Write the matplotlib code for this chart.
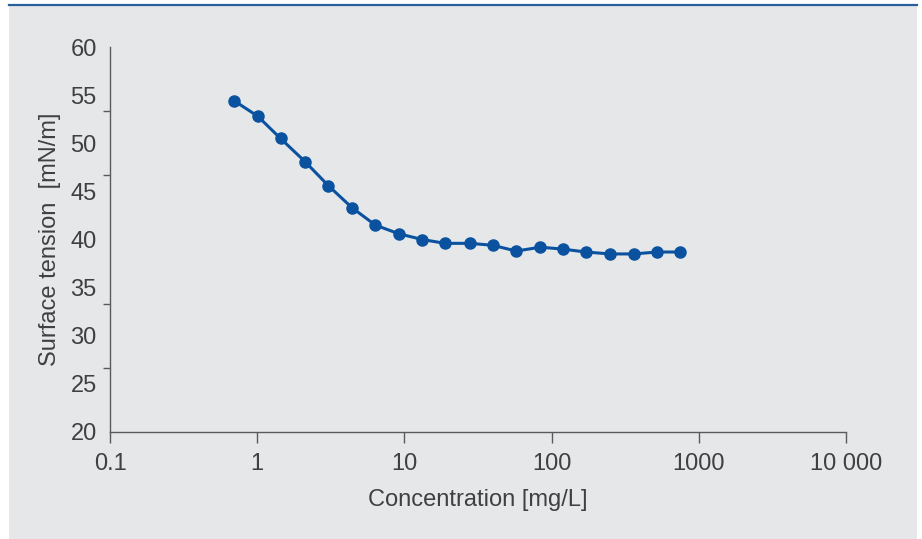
import matplotlib
matplotlib.use("Agg")
import matplotlib.pyplot as plt
from matplotlib.patches import Rectangle
from matplotlib.ticker import FixedLocator, NullFormatter

# Data
concentration = [0.70, 1.01, 1.44, 2.11, 3.04, 4.41, 6.34, 9.15, 13.2, 18.9,
                 27.9, 39.8, 57.5, 83.8, 119.5, 171, 249, 361, 520, 749]
surface_tension = [54.4, 52.8, 50.5, 48.1, 45.6, 43.3, 41.5, 40.6, 40.0, 39.6,
                   39.6, 39.4, 38.8, 39.2, 39.0, 38.7, 38.5, 38.5, 38.7, 38.7]

x_ticks = [0.1, 1, 10, 100, 1000, 10000]
x_tick_labels = ["0.1", "1", "10", "100", "1000", "10 000"]
y_labels = [20, 25, 30, 35, 40, 45, 50, 55, 60]
y_tick_marks = [20, 26.67, 33.33, 40, 46.67, 53.33, 60]

plt.rcParams["font.family"] = ["Liberation Sans", "DejaVu Sans"]
text_color = "#404040"
axis_color = "#5a5a5a"
blue = "#0a52a0"
fs = 17

fig = plt.figure(figsize=(9.22, 5.39), dpi=100)
fig.patch.set_facecolor("white")

# grey panel with a blue rule on top
fig.add_artist(Rectangle((9 / 922, 0), 908 / 922, 1 - 6 / 539,
                         transform=fig.transFigure, facecolor="#e6e7e9",
                         edgecolor="none", zorder=0))
fig.add_artist(plt.Line2D([9 / 922, 917 / 922], [1 - 5 / 539, 1 - 5 / 539],
                          transform=fig.transFigure, color="#2a5f9e", lw=1.6))

ax = fig.add_axes([110 / 922, 1 - 432 / 539, 736 / 922, 385 / 539])
ax.set_facecolor("none")

ax.plot(concentration, surface_tension, color=blue, lw=2.2, marker="o",
        markersize=8, markerfacecolor=blue, markeredgecolor=blue,
        clip_on=False)

ax.set_xscale("log")
ax.set_xlim(0.1, 10000)
ax.set_ylim(20, 60)

ax.xaxis.set_major_locator(FixedLocator(x_ticks))
ax.set_xticklabels(x_tick_labels)
ax.xaxis.set_minor_locator(FixedLocator([]))

# labels every 5, tick marks split into six intervals
ax.yaxis.set_major_locator(FixedLocator(y_labels))
ax.set_yticklabels([str(v) for v in y_labels])
ax.yaxis.set_minor_locator(FixedLocator(y_tick_marks))
ax.yaxis.set_minor_formatter(NullFormatter())

ax.tick_params(axis="x", which="major", direction="out", length=8, width=1,
               color=axis_color, labelsize=fs, labelcolor=text_color, pad=7)
ax.tick_params(axis="y", which="major", length=0, labelsize=fs,
               labelcolor=text_color, pad=9.5)
ax.tick_params(axis="y", which="minor", direction="out", length=5, width=1,
               color=axis_color)

for side in ["top", "right"]:
    ax.spines[side].set_visible(False)
for side in ["left", "bottom"]:
    ax.spines[side].set_color(axis_color)
    ax.spines[side].set_linewidth(1)

ax.set_xlabel("Concentration [mg/L]", fontsize=fs, color=text_color, labelpad=10)
ax.set_ylabel("Surface tension  [mN/m]", fontsize=fs, color=text_color, labelpad=7)

plt.savefig("out.png", dpi=100)
plt.close()
